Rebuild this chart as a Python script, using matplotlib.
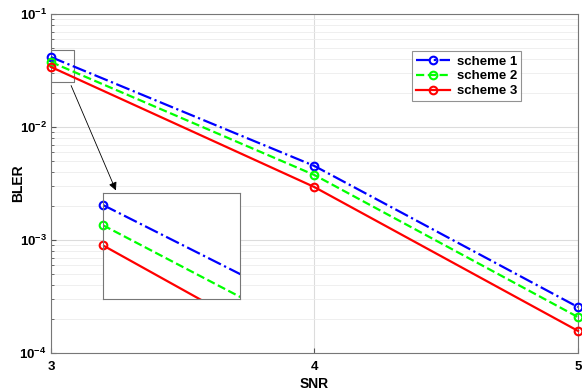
import matplotlib
matplotlib.use('Agg')
import matplotlib.pyplot as plt
from matplotlib.ticker import LogLocator, NullFormatter, FuncFormatter
import numpy as np

plt.rcParams['font.family'] = ['Liberation Sans', 'DejaVu Sans']
plt.rcParams['font.weight'] = 'bold'
plt.rcParams['mathtext.fontset'] = 'custom'
plt.rcParams['mathtext.bf'] = 'Liberation Sans:bold'
plt.rcParams['mathtext.rm'] = 'Liberation Sans:bold'

snr = [3, 4, 5]
scheme1 = [0.0416, 0.00452, 0.000255]
scheme2 = [0.0376, 0.00376, 0.000208]
scheme3 = [0.0340, 0.00294, 0.000157]
labels = ['scheme 1', 'scheme 2', 'scheme 3']
styles = [('b', '-.'), ((0, 1, 0), '--'), ('r', '-')]

fig = plt.figure(figsize=(5.82, 3.9), dpi=100)
ax = fig.add_axes([0.0876, 0.0949, 0.9054, 0.8691])

for data, lab, (c, ls) in zip([scheme1, scheme2, scheme3], labels, styles):
    ax.semilogy(snr, data, color=c, linestyle=ls, linewidth=1.6, marker='o',
                markersize=5.5, markerfacecolor='none', markeredgewidth=1.5,
                label=lab, clip_on=False, zorder=3)

ax.set_xlim(3, 5)
ax.set_ylim(1e-4, 1e-1)
ax.set_xticks(snr)
ax.yaxis.set_major_locator(LogLocator(base=10, numticks=10))
ax.yaxis.set_major_formatter(FuncFormatter(
    lambda v, p: r'$\mathbf{10^{%d}}$' % int(np.round(np.log10(v)))))
ax.yaxis.set_minor_locator(LogLocator(base=10, subs=range(2, 10), numticks=10))
ax.yaxis.set_minor_formatter(NullFormatter())
ax.grid(True, which='major', color='#dcdcdc', linewidth=0.8)
ax.grid(True, which='minor', axis='y', color='#ececec', linewidth=0.6)
ax.tick_params(which='both', direction='in', labelsize=9.5, color='#555555')
ax.tick_params(which='minor', length=2)
ax.tick_params(axis='x', pad=6)
ax.tick_params(axis='y', pad=3)
for s in ax.spines.values():
    s.set_color('#777777')
ax.set_xlabel('SNR', fontsize=10, fontweight='bold')
ax.set_ylabel('BLER', fontsize=10, fontweight='bold')
ax.yaxis.set_label_coords(-0.05, 0.5)
ax.xaxis.set_label_coords(0.5, -0.07)

leg = ax.legend(loc='upper left', bbox_to_anchor=(0.685, 0.89), fontsize=9.5,
                fancybox=False, edgecolor='#777777', handlelength=2.6,
                borderpad=0.3, labelspacing=0.2, handletextpad=0.5, borderaxespad=0)
leg.get_frame().set_linewidth(0.8)

# zoom box in main axes
x0, x1 = 3.0, 3.089
y0, y1 = 0.0251, 0.048
ax.plot([x0, x1, x1, x0, x0], [y0, y0, y1, y1, y0], color='#777777', linewidth=0.8)

# inset
ins = fig.add_axes([0.177, 0.233, 0.235, 0.272])
for data, (c, ls) in zip([scheme1, scheme2, scheme3], styles):
    ins.semilogy(snr, data, color=c, linestyle=ls, linewidth=1.6)
    ins.semilogy(snr[:1], data[:1], color=c, linestyle='none', marker='o',
                 markersize=5.5, markerfacecolor='none', markeredgewidth=1.5, clip_on=False)
ins.set_xlim(3, 3.155)
ins.set_ylim(10 ** -1.585, 10 ** -1.355)
ins.set_xticks([])
ins.set_yticks([])
ins.minorticks_off()
for s in ins.spines.values():
    s.set_color('#777777')

fig.patches.append(matplotlib.patches.FancyArrowPatch(
    (70 / 582, 1 - 83 / 390), (117 / 582, 1 - 193 / 390), transform=fig.transFigure,
    arrowstyle='-|>', mutation_scale=12, color='black', linewidth=0.6))

plt.savefig('out.png', dpi=100)
